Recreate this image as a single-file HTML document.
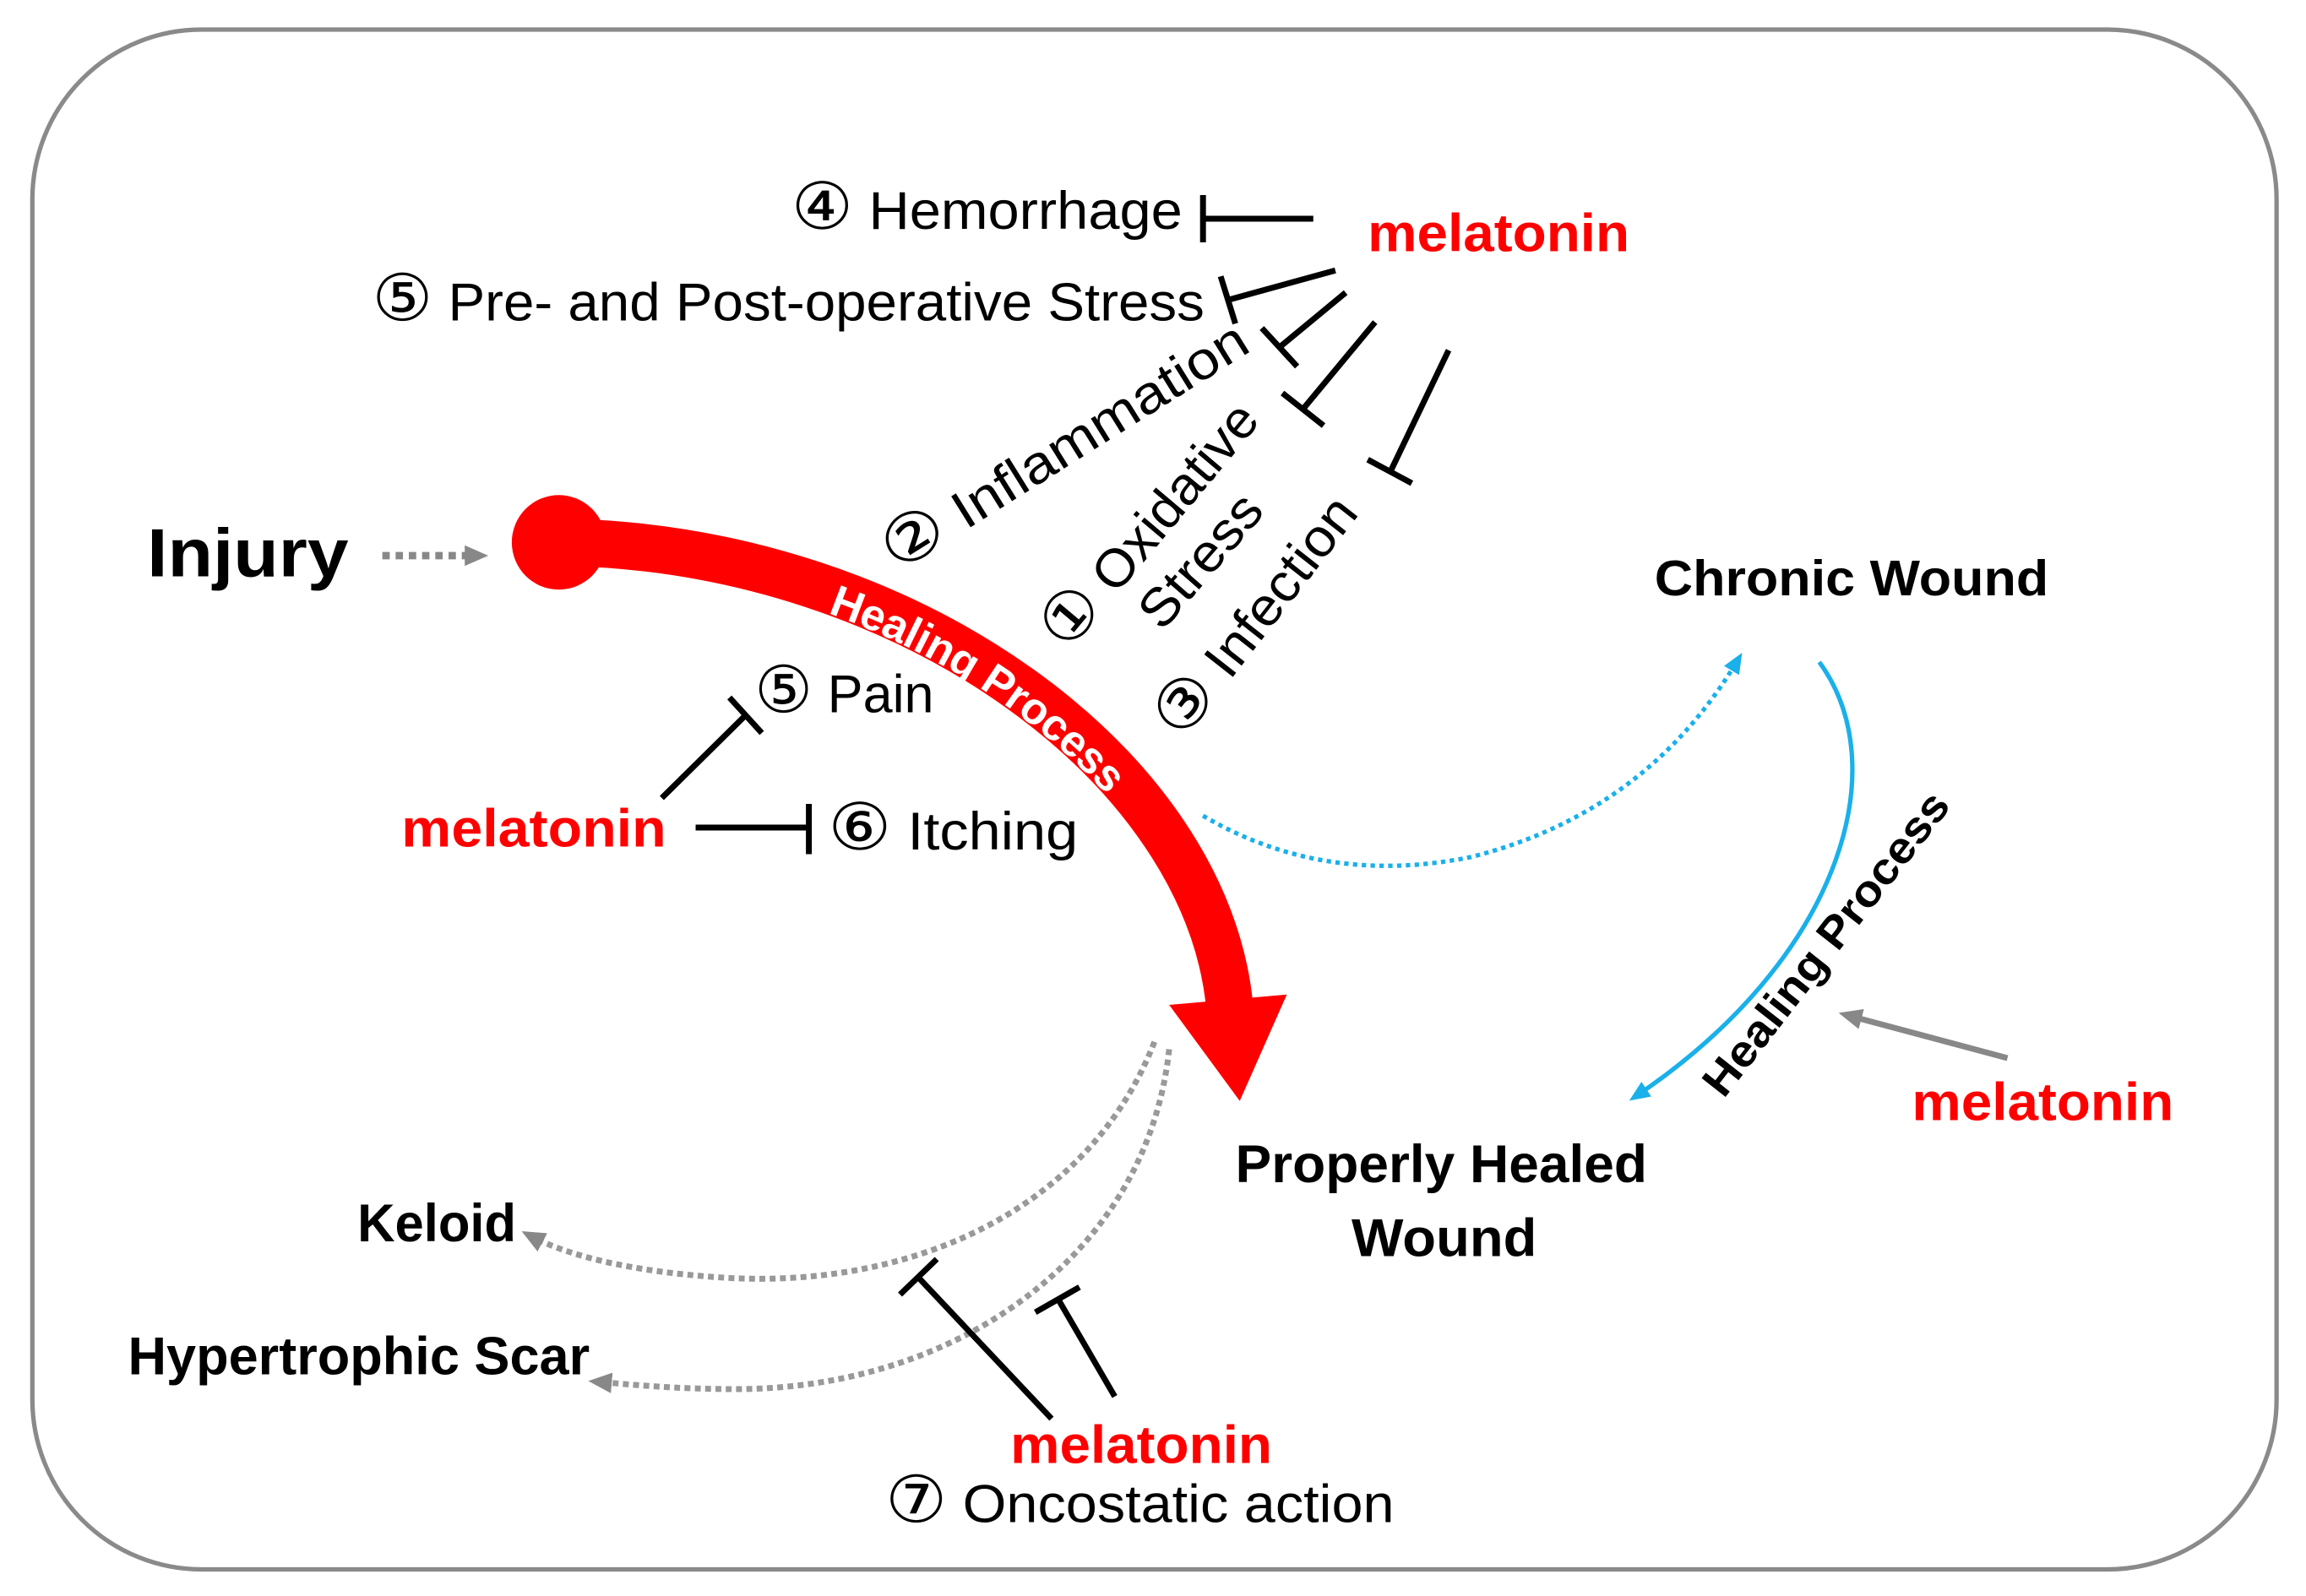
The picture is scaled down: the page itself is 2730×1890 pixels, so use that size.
<!DOCTYPE html>
<html><head><meta charset="utf-8"><style>
html,body{margin:0;padding:0;background:#fff;}
svg{display:block;}
text{font-family:"Liberation Sans","DejaVu Sans",sans-serif;}
.c{font-size:44px;}
</style></head><body>
<svg width="2730" height="1890" viewBox="0 0 1568 1080" preserveAspectRatio="none" xmlns="http://www.w3.org/2000/svg">
<defs>
<marker id="ag" markerWidth="16" markerHeight="14" refX="10" refY="7" orient="auto" markerUnits="userSpaceOnUse"><path d="M0,0 L16,7 L0,14 z" fill="#888"/></marker>
<marker id="ab" markerWidth="14" markerHeight="12" refX="9" refY="6" orient="auto" markerUnits="userSpaceOnUse"><path d="M0,0 L14,6 L0,12 z" fill="#1ab0ea"/></marker>
<path id="hp" d="M385,372 C 620,377 815,525 833,680"/>
</defs>
<rect x="22" y="20" width="1526" height="1042" rx="115" ry="115" fill="#fff" stroke="#8a8a8a" stroke-width="3"/>

<text x="100" y="390" font-size="46" font-weight="bold" textLength="137" lengthAdjust="spacingAndGlyphs">Injury</text>
<line x1="260" y1="376" x2="326" y2="376" stroke="#888" stroke-width="5" stroke-dasharray="5,4" marker-end="url(#ag)"/>

<circle cx="380" cy="367" r="32" fill="#ff0000"/>
<path d="M385,367 C 620,372 820,520 836,680" fill="none" stroke="#ff0000" stroke-width="32"/>
<polygon points="795,680 875,673 843,745" fill="#ff0000"/>
<text font-size="30" font-weight="bold" fill="#fff" dy="10"><textPath href="#hp" startOffset="185">Healing Process</textPath></text>

<text x="538" y="155" font-size="36" textLength="266" lengthAdjust="spacingAndGlyphs"><tspan class="c">④</tspan> Hemorrhage</text>
<line x1="893" y1="148" x2="818" y2="148" stroke="#000" stroke-width="4"/>
<line x1="818" y1="132" x2="818" y2="164" stroke="#000" stroke-width="4"/>
<text x="930" y="170" font-size="36" font-weight="bold" fill="#ff0000" textLength="178" lengthAdjust="spacingAndGlyphs">melatonin</text>

<text x="253" y="217" font-size="36" textLength="566" lengthAdjust="spacingAndGlyphs"><tspan class="c">⑤</tspan> Pre- and Post-operative Stress</text>
<line x1="908" y1="183" x2="835" y2="203" stroke="#000" stroke-width="4"/>
<line x1="830" y1="187" x2="840" y2="219" stroke="#000" stroke-width="4"/>

<line x1="915" y1="198" x2="870" y2="235" stroke="#000" stroke-width="4"/>
<line x1="858" y1="222" x2="882" y2="248" stroke="#000" stroke-width="4"/>

<line x1="935" y1="218" x2="885" y2="278" stroke="#000" stroke-width="4"/>
<line x1="872" y1="266" x2="900" y2="288" stroke="#000" stroke-width="4"/>

<line x1="985" y1="237" x2="945" y2="320" stroke="#000" stroke-width="4"/>
<line x1="930" y1="311" x2="960" y2="327" stroke="#000" stroke-width="4"/>

<text transform="translate(610,388) rotate(-32)" font-size="36" textLength="285" lengthAdjust="spacingAndGlyphs"><tspan class="c">②</tspan> Inflammation</text>
<text transform="translate(726,442) rotate(-50)" font-size="36" textLength="205" lengthAdjust="spacingAndGlyphs"><tspan class="c">①</tspan> Oxidative</text>
<text transform="translate(790,428) rotate(-49)" font-size="36" textLength="108" lengthAdjust="spacingAndGlyphs">Stress</text>
<text transform="translate(804,502) rotate(-52)" font-size="36" textLength="196" lengthAdjust="spacingAndGlyphs"><tspan class="c">③</tspan> Infection</text>

<text x="513" y="482" font-size="36" textLength="122" lengthAdjust="spacingAndGlyphs"><tspan class="c">⑤</tspan> Pain</text>
<text x="563" y="575" font-size="36" textLength="170" lengthAdjust="spacingAndGlyphs"><tspan class="c">⑥</tspan> Itching</text>
<text x="273" y="573" font-size="36" font-weight="bold" fill="#ff0000" textLength="180" lengthAdjust="spacingAndGlyphs">melatonin</text>
<line x1="450" y1="540" x2="508" y2="483" stroke="#000" stroke-width="4"/>
<line x1="496" y1="472" x2="518" y2="496" stroke="#000" stroke-width="4"/>
<line x1="473" y1="560" x2="550" y2="560" stroke="#000" stroke-width="4"/>
<line x1="550" y1="544" x2="550" y2="578" stroke="#000" stroke-width="4"/>

<text x="1125" y="403" font-size="34" font-weight="bold" textLength="268" lengthAdjust="spacingAndGlyphs">Chronic Wound</text>
<path d="M818,552 Q 900,600 1000,580 Q 1120,550 1182,446" fill="none" stroke="#1ab0ea" stroke-width="3" stroke-dasharray="3,3" marker-end="url(#ab)"/>
<path d="M1237,448 C 1290,520 1250,650 1112,742" fill="none" stroke="#1ab0ea" stroke-width="3" marker-end="url(#ab)"/>
<text transform="translate(1172,744) rotate(-52)" font-size="30" font-weight="bold" textLength="252" lengthAdjust="spacingAndGlyphs">Healing Process</text>
<line x1="1365" y1="716" x2="1256" y2="687" stroke="#888" stroke-width="4" marker-end="url(#ag)"/>
<text x="1300" y="758" font-size="36" font-weight="bold" fill="#ff0000" textLength="178" lengthAdjust="spacingAndGlyphs">melatonin</text>

<text x="980" y="800" font-size="36" font-weight="bold" text-anchor="middle" textLength="280" lengthAdjust="spacingAndGlyphs">Properly Healed</text>
<text x="982" y="850" font-size="36" font-weight="bold" text-anchor="middle" textLength="126" lengthAdjust="spacingAndGlyphs">Wound</text>

<path d="M785,705 C 740,820 620,870 500,865 C 440,862 390,852 360,836" fill="none" stroke="#999" stroke-width="4" stroke-dasharray="4,3" marker-end="url(#ag)"/>
<path d="M795,710 C 780,850 650,940 500,940 C 460,940 430,937 406,935" fill="none" stroke="#999" stroke-width="4" stroke-dasharray="4,3" marker-end="url(#ag)"/>
<text x="243" y="840" font-size="36" font-weight="bold" textLength="108" lengthAdjust="spacingAndGlyphs">Keloid</text>
<text x="87" y="930" font-size="36" font-weight="bold" textLength="314" lengthAdjust="spacingAndGlyphs">Hypertrophic Scar</text>
<line x1="715" y1="960" x2="625" y2="865" stroke="#000" stroke-width="4"/>
<line x1="612" y1="876" x2="637" y2="852" stroke="#000" stroke-width="4"/>
<line x1="758" y1="945" x2="720" y2="880" stroke="#000" stroke-width="4"/>
<line x1="704" y1="888" x2="734" y2="871" stroke="#000" stroke-width="4"/>
<text x="687" y="990" font-size="36" font-weight="bold" fill="#ff0000" textLength="178" lengthAdjust="spacingAndGlyphs">melatonin</text>
<text x="602" y="1030" font-size="36" textLength="346" lengthAdjust="spacingAndGlyphs"><tspan class="c">⑦</tspan> Oncostatic action</text>
</svg>
</body></html>
